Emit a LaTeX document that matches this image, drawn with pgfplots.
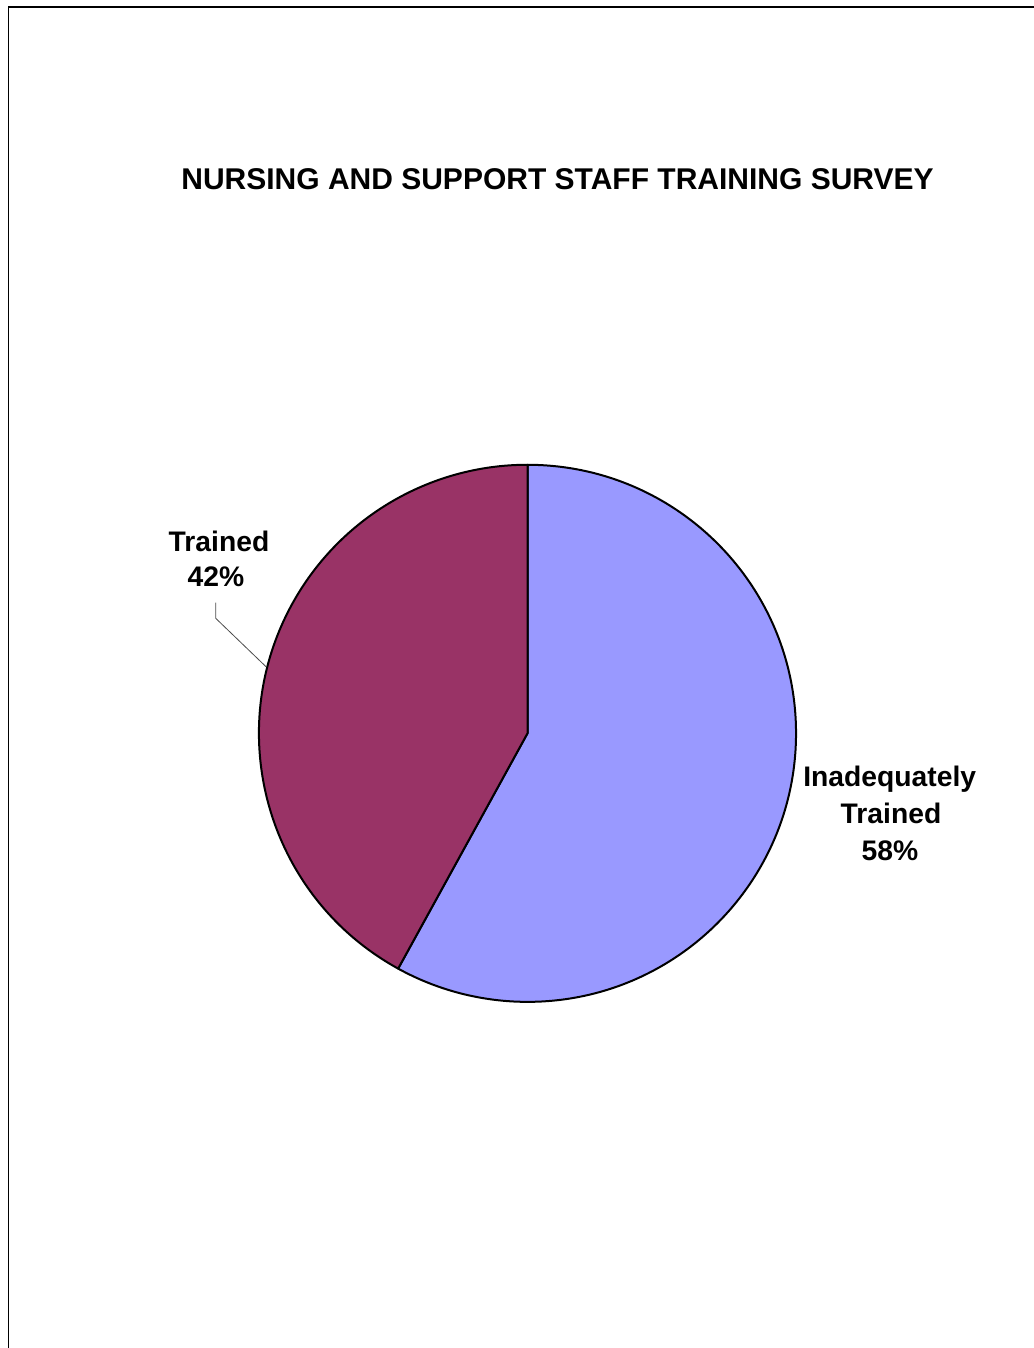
\documentclass[border=0pt]{standalone}
\usepackage{pgfplots}
\pgfplotsset{compat=1.18}
\usepackage{pgfplotstable}
\usepackage{fontspec}
\setmainfont{Liberation Sans}
\definecolor{inad}{HTML}{9999FF}
\definecolor{trn}{HTML}{993366}
\pgfplotstableread{
label value
Inadequately 58
Trained 42
}\piedata
\begin{document}
\begin{tikzpicture}[x=0.75pt,y=0.75pt]
\useasboundingbox (0,0) rectangle (1034,1348);
\pgfplotstablegetelem{0}{value}\of\piedata \let\va\pgfplotsretval
\pgfplotstablegetelem{1}{value}\of\piedata \let\vb\pgfplotsretval
\pgfmathsetmacro\aend{90-3.6*\va}
\pgfmathsetmacro\bend{\aend-3.6*\vb}
\begin{axis}[at={(0,0)}, anchor=south west, scale only axis,
  width=775.5pt, height=1011pt,
  xmin=0, xmax=1034, ymin=0, ymax=1348, hide axis, clip=false]
% frame
\draw[line width=1pt] (axis cs:8.5,0) -- (axis cs:8.5,1341) -- (axis cs:1034,1341);
% title
\node[anchor=base, font=\fontsize{22.5}{27}\selectfont\bfseries] at (axis cs:557.5,1158) {NURSING AND SUPPORT STAFF TRAINING SURVEY};
% slices
\filldraw[fill=inad, draw=black, line width=1.5pt, line join=round]
  (axis cs:527.5,614.7) -- (axis cs:527.5,883.2) arc[start angle=90, end angle=\aend, radius=201.4pt] -- cycle;
\filldraw[fill=trn, draw=black, line width=1.5pt, line join=round]
  (axis cs:527.5,614.7) -- ++(\aend:201.4pt) arc[start angle=\aend, end angle=\bend, radius=201.4pt] -- cycle;
% leader
\draw[gray!60!black, line width=0.6pt] (axis cs:215.7,745.3) -- (axis cs:215.7,729.7) -- (axis cs:266,681.3);
% labels
\begin{scope}[every node/.style={anchor=base, font=\fontsize{21.2}{27}\selectfont\bfseries}]
\node at (axis cs:219,796.3) {Trained};
\node at (axis cs:216,761) {42\%};
\node at (axis cs:889.7,561) {Inadequately};
\node at (axis cs:891,524) {Trained};
\node at (axis cs:890,487) {58\%};
\end{scope}
\end{axis}
\end{tikzpicture}
\end{document}
